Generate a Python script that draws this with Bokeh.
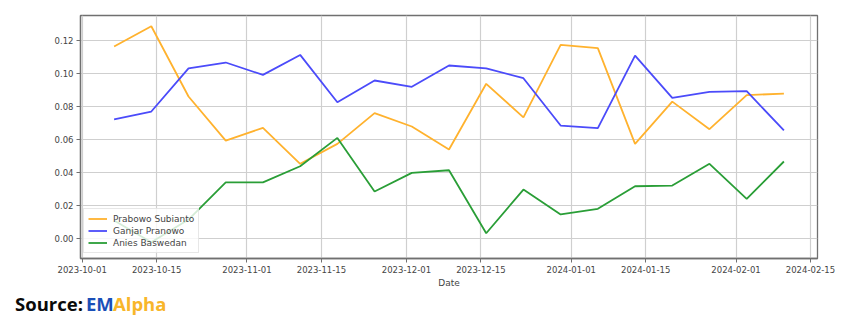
import pandas as pd
from bokeh.plotting import figure
from bokeh.layouts import column
from bokeh.models import (Range1d, FixedTicker, DatetimeTickFormatter, NumeralTickFormatter,
                          Legend, LegendItem, Div)
from bokeh.embed import file_html
from bokeh.resources import INLINE

dates = ["2023-10-07", "2023-10-14", "2023-10-21", "2023-10-28", "2023-11-04", "2023-11-11",
         "2023-11-18", "2023-11-25", "2023-12-02", "2023-12-09", "2023-12-16", "2023-12-23",
         "2023-12-30", "2024-01-06", "2024-01-13", "2024-01-20", "2024-01-27", "2024-02-03",
         "2024-02-10"]
prabowo = [0.1162, 0.1285, 0.0859, 0.0592, 0.0669, 0.0451, 0.0572, 0.0758, 0.0677, 0.0538,
           0.0936, 0.0732, 0.1172, 0.1152, 0.0572, 0.0828, 0.0661, 0.0867, 0.0877]
ganjar = [0.0721, 0.0768, 0.1030, 0.1065, 0.0990, 0.1111, 0.0824, 0.0956, 0.0918, 0.1047,
          0.1030, 0.0970, 0.0683, 0.0667, 0.1107, 0.0851, 0.0887, 0.0891, 0.0653]
anies = [0.0107, -0.0025, 0.0113, 0.0339, 0.0338, 0.0436, 0.0608, 0.0283, 0.0396, 0.0412,
         0.0030, 0.0295, 0.0144, 0.0178, 0.0315, 0.0319, 0.0451, 0.0239, 0.0465]
series_names = ["Prabowo Subianto", "Ganjar Pranowo", "Anies Baswedan"]
y_ticks = [0.00, 0.02, 0.04, 0.06, 0.08, 0.10, 0.12]
x_tick_labels = ["2023-10-01", "2023-10-15", "2023-11-01", "2023-11-15", "2023-12-01",
                 "2023-12-15", "2024-01-01", "2024-01-15", "2024-02-01", "2024-02-15"]
source_parts = ["Source:", "EM", "Alpha"]

x = pd.to_datetime(dates)
x_ticks_ms = [pd.Timestamp(d).value / 1e6 for d in x_tick_labels]
day_ms = 86400000.0
x_start = pd.Timestamp("2023-10-01").value / 1e6 - 0.32 * day_ms
x_end = pd.Timestamp("2024-02-15").value / 1e6 + 1.32 * day_ms

p = figure(width=850, height=292, x_axis_type="datetime", output_backend="svg",
           toolbar_location=None, x_range=Range1d(x_start, x_end),
           y_range=Range1d(-0.0123, 0.135),
           min_border_left=80, min_border_right=33, min_border_top=15, min_border_bottom=34)
p.frame_width = 737
p.frame_height = 243

colors = ["#FFB22E", "#4B4BFA", "#2A9E37"]
renderers = []
for vals, c in zip([prabowo, ganjar, anies], colors):
    r = p.line(x, vals, line_color=c, line_width=1.8)
    renderers.append(r)

font = "DejaVu Sans"
for ax in [p.xaxis[0], p.yaxis[0]]:
    ax.major_label_text_font = font
    ax.major_label_text_font_size = "8.5px"
    ax.major_label_text_color = "#444444"
    ax.axis_line_color = "#707070"
    ax.axis_line_width = 1.3
    ax.major_tick_line_color = "#707070"
    ax.major_tick_in = 0
    ax.major_tick_out = 4
    ax.minor_tick_line_color = None
    ax.major_label_standoff = 3

p.xaxis.ticker = FixedTicker(ticks=x_ticks_ms)
p.xaxis.formatter = DatetimeTickFormatter(days="%Y-%m-%d", months="%Y-%m-%d",
                                          years="%Y-%m-%d", hours="%Y-%m-%d")
p.xaxis.axis_label = "Date"
p.xaxis.axis_label_text_font = font
p.xaxis.axis_label_text_font_style = "normal"
p.xaxis.axis_label_text_font_size = "9px"
p.xaxis.axis_label_text_color = "#444444"
p.xaxis.axis_label_standoff = 2

p.yaxis.ticker = FixedTicker(ticks=y_ticks)
p.yaxis.formatter = NumeralTickFormatter(format="0.00")

p.xgrid.ticker = FixedTicker(ticks=x_ticks_ms)
p.ygrid.ticker = FixedTicker(ticks=y_ticks)
for g in [p.xgrid[0], p.ygrid[0]]:
    g.grid_line_color = "#cfcfcf"
    g.grid_line_width = 1.2

p.outline_line_color = "#707070"
p.outline_line_width = 1.3
p.background_fill_color = "white"
p.border_fill_color = "white"

legend = Legend(items=[LegendItem(label=n, renderers=[r]) for n, r in zip(series_names, renderers)],
                location=(3, 5), orientation="vertical")
legend.label_text_font = font
legend.label_text_font_size = "9px"
legend.label_text_color = "#444444"
legend.glyph_width = 19
legend.glyph_height = 11
legend.label_height = 11
legend.label_standoff = 6
legend.spacing = 1
legend.padding = 4
legend.margin = 0
legend.background_fill_alpha = 0.8
legend.border_line_color = "#d0d0d0"
legend.border_line_width = 1
p.add_layout(legend, "center")

# Source line below the chart
spans = ""
for txt, xx, col in zip(source_parts, [15, 86, 113], ["#0a0a0a", "#1A4FB8", "#F8B62A"]):
    spans += ('<span style="position:absolute;left:%dpx;top:-2px;color:%s;">%s</span>'
              % (xx, col, txt))
html = ('<div style="position:relative;width:850px;height:28px;font-family:\'Open Sans\';'
        'font-weight:bold;font-size:18.5px;line-height:28px;">' + spans + '</div>')
s = Div(text=html, width=850, height=28, margin=(0, 0, 0, 0))

layout = column(p, s, spacing=0)
open("out.html", "w").write(file_html(layout, INLINE))
